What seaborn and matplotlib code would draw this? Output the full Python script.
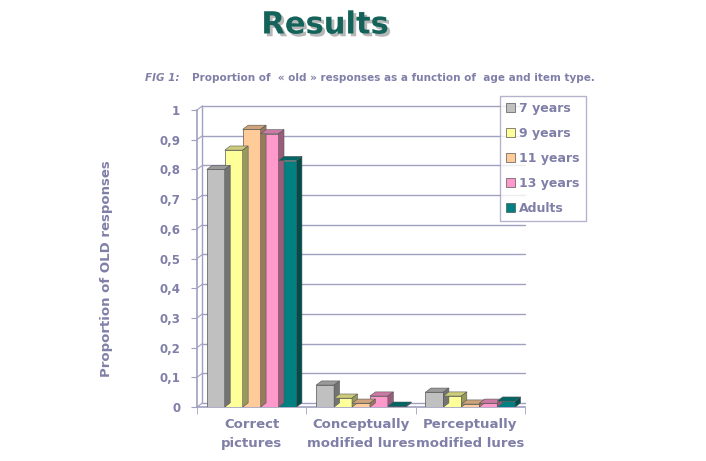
import numpy as np
import pandas as pd
import matplotlib
matplotlib.use("Agg")
import matplotlib.pyplot as plt
import matplotlib.patheffects as pe
from matplotlib.patches import Polygon, Patch
import matplotlib.colors as mcolors
import seaborn as sns

categories = ["Correct\npictures", "Conceptually\nmodified lures", "Perceptually\nmodified lures"]
groups = ["7 years", "9 years", "11 years", "13 years", "Adults"]
vals_7 = [0.80, 0.074, 0.05]
vals_9 = [0.865, 0.03, 0.037]
vals_11 = [0.935, 0.013, 0.01]
vals_13 = [0.92, 0.037, 0.013]
vals_adults = [0.83, 0.003, 0.02]
colors = ["#c0c0c0", "#ffff99", "#ffcc99", "#ff99cc", "#008080"]
yticks = [0, 0.1, 0.2, 0.3, 0.4, 0.5, 0.6, 0.7, 0.8, 0.9, 1]
ytick_labels = ["0", "0,1", "0,2", "0,3", "0,4", "0,5", "0,6", "0,7", "0,8", "0,9", "1"]

rows = []
for g, vals in zip(groups, [vals_7, vals_9, vals_11, vals_13, vals_adults]):
    for c, v in zip(categories, vals):
        rows.append({"cat": c, "group": g, "value": v})
df = pd.DataFrame(rows)

sns.set_style("white")
plt.rcParams['font.family'] = ['DejaVu Sans']
txt = "#7f7fa8"
gridc = "#a0a0c0"

fig = plt.figure(figsize=(7.06, 4.61), dpi=100)
ax = fig.add_axes([0.279, 0.117, 0.4646, 0.6443])

sns.barplot(data=df, x="cat", y="value", hue="group", palette=colors,
            order=categories, hue_order=groups, width=0.82, saturation=1, ax=ax,
            edgecolor="#555555", linewidth=0.5, legend=False, zorder=3)

ax.set_ylim(0, 1)
ax.set_xlim(-0.5, 2.5)
dx = 0.05
dy = 0.014

# back wall gridlines
for t in yticks:
    ax.plot([-0.5 + dx, 2.5], [t + dy, t + dy], color=gridc, lw=1.0, zorder=1, clip_on=False)
ax.plot([-0.5 + dx, -0.5 + dx], [dy, 1 + dy], color=gridc, lw=1.0, zorder=1, clip_on=False)
for t in yticks:
    ax.plot([-0.5, -0.5 + dx], [t, t + dy], color=gridc, lw=0.8, zorder=1, clip_on=False)

# 3D faces for bars
for p in list(ax.patches):
    x = p.get_x(); w = p.get_width(); h = p.get_height()
    fc = np.array(mcolors.to_rgb(p.get_facecolor()))
    top = Polygon([(x, h), (x + dx, h + dy), (x + w + dx, h + dy), (x + w, h)],
                  closed=True, facecolor=fc * 0.8, edgecolor="#555555", lw=0.4, zorder=3)
    side = Polygon([(x + w, 0), (x + w + dx, dy), (x + w + dx, h + dy), (x + w, h)],
                   closed=True, facecolor=fc * 0.6, edgecolor="#555555", lw=0.4, zorder=3)
    ax.add_patch(top); ax.add_patch(side)

for s in ["top", "right"]:
    ax.spines[s].set_visible(False)
ax.spines["left"].set_color(gridc)
ax.spines["bottom"].set_color(gridc)
ax.spines["left"].set_linewidth(1.2)
ax.spines["bottom"].set_linewidth(1.2)

ax.set_yticks(yticks)
ax.set_yticklabels(ytick_labels, color=txt, fontsize=8.5, fontweight="bold")
ax.tick_params(axis="y", length=4, color=gridc, direction="out", pad=8, left=True)
ax.set_xticks(range(len(categories)))
ax.set_xticklabels(categories, color=txt, fontsize=9.5, fontweight="bold", linespacing=1.6)
ax.tick_params(axis="x", length=0, pad=8)
ax.set_xticks([-0.5, 0.5, 1.5, 2.5], minor=True)
ax.tick_params(axis="x", which="minor", length=5, color=gridc, bottom=True)
ax.set_xlabel("")
ax.set_ylabel("Proportion of OLD responses", color=txt, fontsize=9.5, fontweight="bold")
ax.yaxis.set_label_coords(-0.255, 0.465)

handles = [Patch(facecolor=c, edgecolor="#555555", lw=0.5) for c in colors]
leg = fig.legend(handles, groups, loc="upper left", bbox_to_anchor=(500/706, 1 - 96/461),
                 frameon=True, fancybox=False, edgecolor=gridc, fontsize=9,
                 handlelength=0.7, handleheight=0.7, handletextpad=0.3,
                 labelspacing=0.95, borderpad=0.5, borderaxespad=0)
for t in leg.get_texts():
    t.set_color(txt); t.set_fontweight("bold")
leg.get_frame().set_linewidth(1.0)

fig.text(325/706, 1 - 25/461, "Results", ha="center", va="center", fontsize=22,
         fontweight="bold", color="#14635a",
         path_effects=[pe.withSimplePatchShadow(offset=(2, -2), shadow_rgbFace="#888888", alpha=0.6)])
fig.text(145/706, 1 - 78/461, "FIG 1:", ha="left", va="center", fontsize=7.5,
         fontweight="bold", fontstyle="italic", color=txt)
fig.text(192/706, 1 - 78/461, "Proportion of  \u00ab old \u00bb responses as a function of  age and item type.",
         ha="left", va="center", fontsize=7.5, fontweight="bold", color=txt)

fig.savefig("out.png", dpi=100, facecolor="white")
